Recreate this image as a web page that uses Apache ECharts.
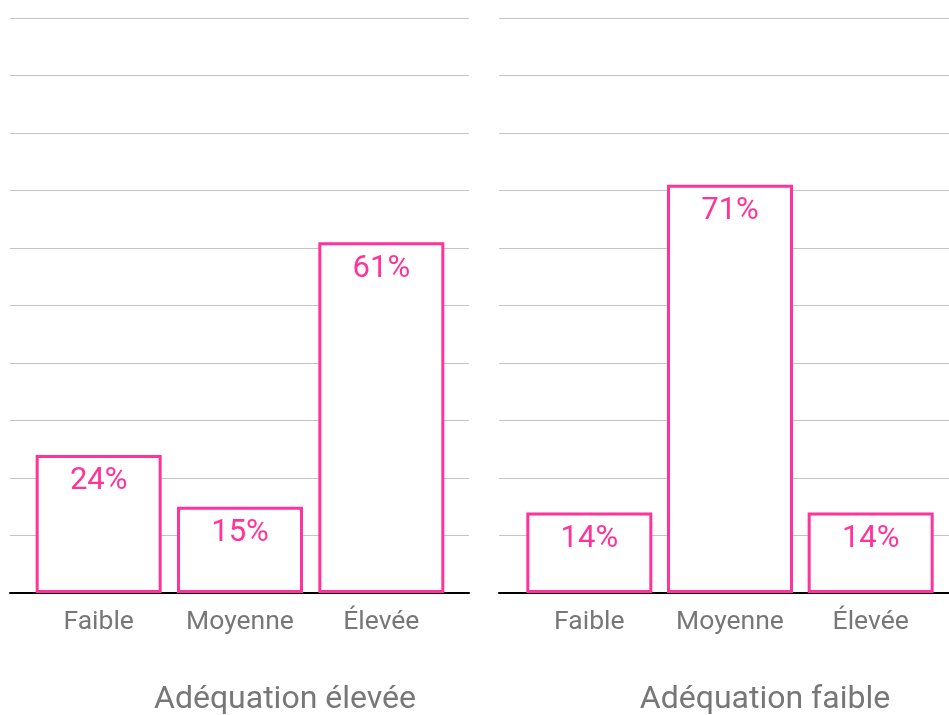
<!DOCTYPE html>
<html><head><meta charset="utf-8">
<script src="https://cdn.jsdelivr.net/npm/echarts@6/dist/echarts.min.js"></script>
<style>html,body{margin:0;padding:0;background:#fff}#c{width:949px;height:715px}</style>
</head><body><div id="c"></div>
<script>
const categories = ['Faible', 'Moyenne', 'Élevée'];
const panelTitles = ['Adéquation élevée', 'Adéquation faible'];
const valuesHigh = [24, 15, 61];
const valuesLow = [14, 71, 14];

const pink = '#ff3399';
const grey = '#777777';
const font = 'Roboto';

const chart = echarts.init(document.getElementById('c'));
const gTop = 18, gHeight = 575;
const grids = [
  {left: 10, width: 459, top: gTop, height: gHeight},
  {left: 28, width: 424, top: gTop, height: gHeight},
  {left: 499, width: 450, top: gTop, height: gHeight},
  {left: 519, width: 422, top: gTop, height: gHeight}
];
function bgX(i){return {type:'value',gridIndex:i,min:0,max:1,axisLabel:{show:false},axisTick:{show:false},splitLine:{show:false},axisLine:{show:true,onZero:false,lineStyle:{color:'#000',width:2}}};}
function bgY(i){return {type:'value',gridIndex:i,min:0,max:100,interval:10,axisLabel:{show:false},axisTick:{show:false},axisLine:{show:false},splitLine:{show:true,lineStyle:{color:'#c4c4c4',width:1}}};}
function barX(i){return {type:'category',gridIndex:i,data:categories,axisLine:{show:false},axisTick:{show:false},axisLabel:{color:grey,fontFamily:font,fontSize:26.5,margin:16}};}
function barY(i){return {type:'value',gridIndex:i,min:0,max:100,interval:10,show:false,splitLine:{show:false}};}
function barSeries(i, data){return {type:'bar',xAxisIndex:i,yAxisIndex:i,data:data,barWidth:126,
  itemStyle:{color:'#fff',borderColor:pink,borderWidth:3},
  label:{show:true,position:'insideTop',distance:11,color:pink,fontFamily:font,fontSize:31,formatter:'{c}%'}};}
chart.setOption({
  animation:false,
  grid: grids,
  xAxis:[bgX(0),barX(1),bgX(2),barX(3)],
  yAxis:[bgY(0),barY(1),bgY(2),barY(3)],
  title:[
    {text:panelTitles[0],left:280,top:679,textAlign:'center',textStyle:{color:grey,fontFamily:font,fontSize:32,fontWeight:'normal'}},
    {text:panelTitles[1],left:760,top:679,textAlign:'center',textStyle:{color:grey,fontFamily:font,fontSize:32,fontWeight:'normal'}}
  ],
  series:[barSeries(1,valuesHigh),barSeries(3,valuesLow)]
});
</script></body></html>
